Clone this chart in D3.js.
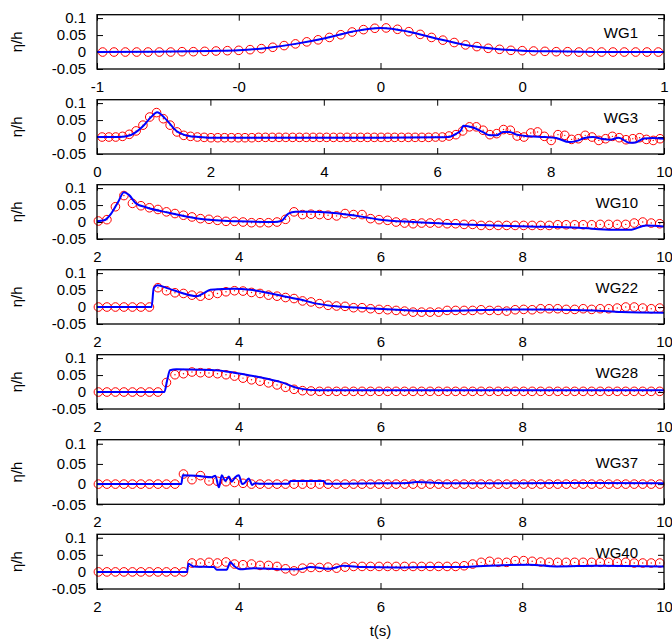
<!DOCTYPE html>
<html>
<head>
<meta charset="utf-8">
<script src="https://cdn.jsdelivr.net/npm/d3@7"></script>
<style>
  body { margin: 0; background: #fff; }
  svg text { font-family: "Liberation Sans", Arial, sans-serif; font-size: 15px; fill: #000; }
</style>
</head>
<body>
<script>
/* Wave gauge time series: experiment (circles) vs simulation (line) */

var gauges = ["WG1", "WG3", "WG10", "WG22", "WG28", "WG37", "WG40"];

var xDomains = [[-1, 1], [0, 10], [2, 10], [2, 10], [2, 10], [2, 10], [2, 10]];
var xTicksWide = [-1, -0.5, 0, 0.5, 1],
    xTickLabelsWide = ["-1", "-0", "0", "0", "1"];
var xTicksWG3 = [0, 2, 4, 6, 8, 10];
var xTicks = [2, 4, 6, 8, 10];
var yTicks = [-0.05, 0, 0.05, 0.1],
    yTickLabels = ["-0.05", "0", "0.05", "0.1"];

// sampling of the measured records (first time, step)
var expStart = [-0.98, 0.09, 2.02, 2.02, 2.02, 2.02, 2.02],
    expStep = [0.04, 0.12, 0.12, 0.12, 0.12, 0.12, 0.12];

// measured eta/h
var wg1Exp = [0, 0, 0, 0, 0, 0, 0, 0.001, 0.001, 0.002, 0.003, 0.004, 0.005, 0.007, 0.010,
  0.014, 0.019, 0.024, 0.030, 0.036, 0.043, 0.051, 0.059, 0.066, 0.070, 0.071, 0.067, 0.060,
  0.052, 0.043, 0.035, 0.028, 0.021, 0.016, 0.011, 0.008, 0.005, 0.004, 0.003, 0.002, 0.001,
  0.001, 0, 0, 0, 0, 0, 0, 0, 0];
var wg3Exp = [0, 0, 0, 0.002, 0.008, 0.018, 0.035, 0.059, 0.072, 0.054, 0.035, 0.015, 0.005,
  0.002, 0, -0.001, -0.002, -0.002, -0.002, -0.002, -0.002, -0.002, -0.002, -0.001, -0.001,
  -0.001, -0.001, -0.001, -0.001, -0.001, -0.001, -0.001, -0.001, -0.001, -0.001, -0.001,
  -0.001, -0.001, -0.001, -0.001, -0.001, -0.001, -0.001, -0.001, -0.001, -0.001, -0.001,
  -0.001, -0.001, 0, 0, 0.003, 0.007, 0.018, 0.030, 0.030, 0.020, 0.007, 0.010, 0.022, 0.020,
  0.003, 0, 0.012, 0.015, 0.002, -0.010, 0.007, 0.005, -0.007, -0.005, 0.005, 0, -0.010,
  -0.005, 0.002, -0.002, -0.008, -0.005, -0.002, -0.007, -0.010, -0.005];
var wg10Exp = [0.003, 0.007, 0.045, 0.078, 0.055, 0.048, 0.042, 0.037, 0.030, 0.025, 0.020,
  0.015, 0.010, 0.008, 0.005, 0.002, 0.002, 0, -0.002, -0.002, -0.002, 0, 0.008, 0.030, 0.022,
  0.023, 0.022, 0.020, 0.018, 0.025, 0.022, 0.022, 0.010, 0.007, 0.005, 0, -0.003, -0.005,
  -0.003, -0.003, -0.003, -0.005, -0.005, -0.007, -0.007, -0.010, -0.010, -0.010, -0.010,
  -0.010, -0.010, -0.010, -0.010, -0.010, -0.008, -0.008, -0.008, -0.008, -0.008, -0.007,
  -0.007, -0.007, -0.007, -0.003, 0, -0.003, -0.005];
var wg22Exp = [0, 0, 0, 0, 0, 0, 0, 0.057, 0.048, 0.042, 0.040, 0.035, 0.032, 0.035, 0.040,
  0.045, 0.048, 0.047, 0.043, 0.040, 0.035, 0.032, 0.028, 0.025, 0.018, 0.015, 0.010, 0.005,
  0.003, 0.002, -0.002, -0.002, -0.005, -0.007, -0.008, -0.010, -0.012, -0.015, -0.015, -0.015,
  -0.015, -0.010, -0.010, -0.010, -0.010, -0.008, -0.010, -0.010, -0.012, -0.008, -0.007,
  -0.008, -0.005, -0.005, -0.005, -0.007, -0.007, -0.005, -0.007, -0.005, -0.005, -0.003, 0,
  0, -0.003, -0.005, -0.003];
var wg28Exp = [0, 0, 0, 0, 0, 0, 0, 0, 0.028, 0.051, 0.054, 0.059, 0.057, 0.056, 0.054, 0.051,
  0.047, 0.041, 0.036, 0.032, 0.027, 0.021, 0.014, 0.008, 0.004, 0.003, 0.002, 0.002, 0.002,
  0.002, 0.002, 0.002, 0.002, 0.002, 0.002, 0.002, 0.002, 0.002, 0.002, 0.002, 0.002, 0.002,
  0.002, 0.002, 0.002, 0.002, 0.002, 0.002, 0.002, 0.002, 0.002, 0.002, 0.002, 0.002, 0.002,
  0.002, 0.002, 0.002, 0.002, 0.002, 0.002, 0.002, 0.002, 0.002, 0.002, 0.002, 0.002];
var wg37Exp = [0, 0, 0, 0, 0, 0, 0, 0, 0, 0, 0.025, 0.011, 0.021, 0.008, 0.007, 0.006, 0.004,
  0.002, 0, 0, 0, 0, 0, 0, 0, 0, 0, 0, 0, 0, 0, 0, 0, 0, 0, 0, 0, 0, 0, 0, 0, 0, 0, 0, 0, 0, 0,
  0, 0, 0, 0, 0, 0, 0, 0, 0, 0, 0, 0, 0, 0, 0, 0, 0, 0, 0, 0];
var wg40Exp = [0, 0, 0, 0, 0, 0, 0, 0, 0, 0, 0, 0.026, 0.026, 0.028, 0.026, 0.029, 0.023, 0.021,
  0.023, 0.019, 0.019, 0.016, 0.009, 0.003, 0.011, 0.013, 0.013, 0.014, 0.011, 0.014, 0.016,
  0.016, 0.016, 0.016, 0.016, 0.016, 0.016, 0.016, 0.016, 0.016, 0.016, 0.016, 0.016, 0.018,
  0.023, 0.028, 0.031, 0.028, 0.028, 0.033, 0.033, 0.031, 0.029, 0.028, 0.028, 0.028, 0.028,
  0.028, 0.028, 0.028, 0.028, 0.028, 0.028, 0.026, 0.026, 0.026, 0.026];

// simulated eta/h
var wg1SimT = [-1, -0.8, -0.6, -0.5, -0.4, -0.3, -0.2, -0.1, 0, 0.1, 0.2, 0.3, 0.4, 0.5, 0.6, 0.8, 1],
    wg1SimY = [0, 0.0005, 0.003, 0.005, 0.012, 0.024, 0.04, 0.06, 0.071, 0.06, 0.039, 0.021, 0.01, 0.004, 0.002, 0, 0];
var wg3SimT = [0, 0.4, 0.6, 0.8, 0.95, 1.06, 1.2, 1.4, 1.6, 1.8, 2, 3, 4, 5, 6, 6.2, 6.34, 6.42,
  6.46, 6.63, 6.8, 6.93, 7.05, 7.16, 7.28, 7.4, 7.63, 7.9, 8.1, 8.33, 8.45, 8.6, 8.75, 8.9,
  9.05, 9.2, 9.39, 9.5, 9.65, 9.8, 10],
    wg3SimY = [0, 0, 0.006, 0.03, 0.058, 0.073, 0.055, 0.018, 0.004, 0, -0.002, -0.002, -0.002,
  -0.002, -0.001, 0, 0.01, 0.02, 0.033, 0.028, 0.015, 0.005, 0.005, 0.015, 0.015, 0.007, 0.002,
  0, -0.003, -0.015, -0.012, -0.003, 0, -0.005, -0.008, -0.002, -0.017, -0.016, -0.004, -0.003, -0.005];
var wg10SimT = [2, 2.1, 2.2, 2.3, 2.38, 2.45, 2.55, 2.7, 3.0, 3.5, 4.0, 4.5, 4.6, 4.7, 4.8, 5.0,
  5.3, 5.76, 6.0, 6.46, 7.17, 8.1, 8.8, 9.28, 9.52, 9.75, 10],
    wg10SimY = [0.002, 0.005, 0.025, 0.06, 0.088, 0.08, 0.055, 0.043, 0.028, 0.008, 0.002, 0,
  0.003, 0.025, 0.03, 0.03, 0.027, 0.015, 0.007, 0, -0.007, -0.013, -0.017, -0.023, -0.023, -0.01, -0.013];
var wg22SimT = [2, 2.77, 2.8, 2.85, 3.0, 3.22, 3.41, 3.5, 3.6, 3.93, 4.16, 4.4, 4.63, 4.87, 5.1,
  5.34, 5.76, 6.23, 6.7, 7.2, 8.1, 9.0, 9.4, 10],
    wg22SimY = [0, 0, 0.055, 0.064, 0.055, 0.04, 0.032, 0.04, 0.051, 0.054, 0.051, 0.042, 0.032,
  0.022, 0.01, 0.003, -0.003, -0.008, -0.012, -0.01, -0.007, -0.01, -0.015, -0.017];
var wg28SimT = [2, 2.95, 2.99, 3.03, 3.12, 3.46, 3.69, 3.93, 4.16, 4.4, 4.63, 4.78, 4.87, 5.1, 6, 7, 8, 9, 10],
    wg28SimY = [0, 0, 0.035, 0.064, 0.067, 0.066, 0.064, 0.057, 0.049, 0.039, 0.027, 0.015, 0.01,
  0.005, 0.005, 0.005, 0.005, 0.005, 0.005];
var wg37SimT = [2, 3.19, 3.21, 3.4, 3.62, 3.67, 3.72, 3.76, 3.81, 3.86, 3.9, 3.95, 4.0, 4.05, 4.09,
  4.14, 4.19, 4.23, 4.3, 4.7, 4.73, 5.2, 5.23, 6, 6.4, 6.5, 7, 8, 9, 10],
    wg37SimY = [0, 0, 0.022, 0.021, 0.017, 0.021, -0.008, 0.022, 0.008, 0.019, 0.006, 0.017, 0.022,
  0, 0.004, 0.014, -0.002, 0.002, 0.001, 0.001, 0.008, 0.008, 0.001, 0.002, 0.003, 0.005, 0.002,
  0.002, 0.003, 0.002];
var wg40SimT = [2, 3.27, 3.29, 3.36, 3.65, 3.69, 3.83, 3.86, 3.88, 3.93, 4.02, 4.21, 4.68, 4.87,
  5.01, 5.29, 5.47, 5.76, 6.23, 6.7, 7.17, 7.31, 7.64, 8.1, 8.48, 9.05, 10],
    wg40SimY = [0, 0, 0.024, 0.016, 0.014, 0.006, 0.006, 0.02, 0.028, 0.018, 0.008, 0.011, 0.008,
  0.008, 0.014, 0.009, 0.018, 0.014, 0.013, 0.014, 0.014, 0.016, 0.019, 0.021, 0.016, 0.018, 0.016];

var expData = [wg1Exp, wg3Exp, wg10Exp, wg22Exp, wg28Exp, wg37Exp, wg40Exp];
var simT = [wg1SimT, wg3SimT, wg10SimT, wg22SimT, wg28SimT, wg37SimT, wg40SimT],
    simY = [wg1SimY, wg3SimY, wg10SimY, wg22SimY, wg28SimY, wg37SimY, wg40SimY];

// layout
var width = 672, height = 639,
    left = 97, plotW = 567,
    panelTop = [14.7, 99.7, 184.7, 269.7, 354.7, 439.7, 534.3],
    panelH = [54.3, 54.3, 54.3, 54.3, 54.3, 64.6, 54.7],
    tick = 6;

var svg = d3.select("body").append("svg")
    .attr("width", width)
    .attr("height", height);

gauges.forEach(function(name, p) {
    var h = panelH[p];
    var g = svg.append("g")
        .attr("transform", "translate(" + left + "," + panelTop[p] + ")");

    var x = d3.scaleLinear().domain(xDomains[p]).range([0, plotW]);
    var y = d3.scaleLinear().domain([-0.05, 0.11]).range([h, 0]);

    var xt = p === 0 ? xTicksWide : (p === 1 ? xTicksWG3 : xTicks);
    var xfmt = p === 0 ? function(d, i) { return xTickLabelsWide[i]; } : d3.format("d");

    var xb = g.append("g").attr("transform", "translate(0," + h + ")")
        .call(d3.axisBottom(x).tickValues(xt).tickFormat(xfmt).tickSize(-tick).tickPadding(12));
    g.append("g")
        .call(d3.axisTop(x).tickValues(xt).tickFormat("").tickSize(-tick));
    var yl = g.append("g")
        .call(d3.axisLeft(y).tickValues(yTicks).tickFormat(function(d, i) { return yTickLabels[i]; })
            .tickSize(-tick).tickPadding(11));
    g.append("g").attr("transform", "translate(" + plotW + ",0)")
        .call(d3.axisRight(y).tickValues(yTicks).tickFormat("").tickSize(-tick));

    g.selectAll(".domain").remove();
    g.selectAll(".tick line").attr("stroke", "#000").attr("stroke-width", 1);
    g.selectAll(".tick text").attr("font-size", null).attr("font-family", null);
    xb.attr("font-size", null).attr("font-family", null);
    yl.attr("font-size", null).attr("font-family", null);

    // measured points
    var pts = expData[p].map(function(v, i) {
        return { t: expStart[p] + expStep[p] * i, v: v };
    });
    var dots = g.append("g").selectAll("g").data(pts).join("g")
        .attr("transform", function(d) { return "translate(" + x(d.t) + "," + y(d.v) + ")"; });
    dots.append("circle").attr("r", 4.3)
        .attr("fill", "none").attr("stroke", "#ff0000").attr("stroke-width", 1);
    dots.append("circle").attr("r", 0.7).attr("fill", "#ff0000");

    // simulation
    var line = d3.line()
        .x(function(d) { return x(d[0]); })
        .y(function(d) { return y(d[1]); })
        .curve(d3.curveMonotoneX);
    g.append("path")
        .datum(d3.zip(simT[p], simY[p]))
        .attr("fill", "none")
        .attr("stroke", "#0000ff")
        .attr("stroke-width", 2)
        .attr("d", line);

    // frame
    g.append("rect")
        .attr("width", plotW).attr("height", h)
        .attr("fill", "none").attr("stroke", "#000").attr("stroke-width", 1.3);

    g.append("text")
        .attr("x", plotW - 26).attr("y", h * 0.4 + 2)
        .attr("text-anchor", "end")
        .text(name);

    svg.append("text")
        .attr("transform", "translate(22," + (panelTop[p] + h / 2) + ") rotate(-90)")
        .attr("text-anchor", "middle")
        .text("η/h");
});

svg.append("text")
    .attr("x", left + plotW / 2)
    .attr("y", 636)
    .attr("text-anchor", "middle")
    .text("t(s)");
</script>
</body>
</html>
